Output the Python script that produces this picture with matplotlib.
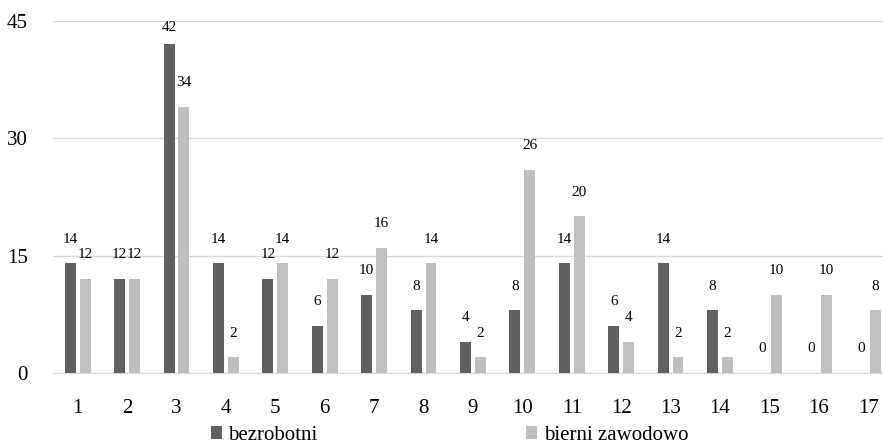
import matplotlib.pyplot as plt
import numpy as np

plt.rcParams['font.family'] = ['Liberation Serif', 'DejaVu Serif']

kategorie = [str(i) for i in range(1, 18)]
bezrobotni = [14, 12, 42, 14, 12, 6, 10, 8, 4, 8, 14, 6, 14, 8, 0, 0, 0]
bierni = [12, 12, 34, 2, 14, 12, 16, 14, 2, 26, 20, 4, 2, 2, 10, 10, 8]

kolor_ciemny = '#606060'
kolor_jasny = '#bfbfbf'

fig = plt.figure(figsize=(8.83, 4.44), dpi=100)
ax = fig.add_axes([0.060, 0.160, 0.940, 0.793])

x = np.arange(len(kategorie))
szer = 0.22
przes = 0.15

ax.bar(x - przes, bezrobotni, szer, color=kolor_ciemny, label='bezrobotni', zorder=3)
ax.bar(x + przes, bierni, szer, color=kolor_jasny, label='bierni zawodowo', zorder=3)

# etykiety wartości nad słupkami
for xs, vals in ((x - przes, bezrobotni), (x + przes, bierni)):
    for xi, v in zip(xs, vals):
        ax.text(xi, min(v + 3.1, 44.1), str(v), ha='center', va='center', fontsize=11)

ax.set_ylim(0, 45)
ax.set_yticks([0, 15, 30, 45])
ax.set_xlim(-0.5, 16.3)
ax.set_xticks(x)
ax.set_xticklabels(kategorie)

ax.grid(axis='y', color='#d9d9d9', linewidth=1, zorder=0)
for s in ('top', 'right', 'left'):
    ax.spines[s].set_visible(False)
ax.spines['bottom'].set_color('#d9d9d9')
ax.tick_params(axis='both', length=0, labelsize=15)
ax.tick_params(axis='y', pad=18)
ax.tick_params(axis='x', pad=19)

fig.legend(loc='center', bbox_to_anchor=(0.509, 0.019), ncol=2, frameon=False,
           fontsize=15, handlelength=0.55, handleheight=0.55, handletextpad=0.3,
           columnspacing=10, borderaxespad=0, borderpad=0)

plt.savefig('out.png', dpi=100)
